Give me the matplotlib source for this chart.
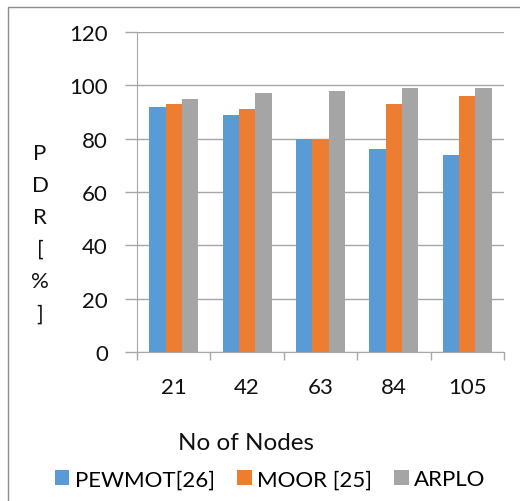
import numpy as np
import matplotlib.pyplot as plt
from matplotlib.patches import Rectangle

plt.rcParams['font.family'] = ['Lato', 'DejaVu Sans']

# PDR per node count
nodes = ['21', '42', '63', '84', '105']
pewmot = [92, 89, 80, 76, 74]
moor = [93, 91, 80, 93, 96]
arplo = [95, 97, 98, 99, 99]
series_names = ['PEWMOT[26]', 'MOOR [25]', 'ARPLO']
colors = ['#5B9BD5', '#ED7D31', '#A5A5A5']

fig = plt.figure(figsize=(5.2, 5.02), dpi=100)
ax = fig.add_axes([0.2635, 0.297, 0.7055, 0.637])

x = np.arange(len(nodes))
w = 0.222
for i, (vals, name, c) in enumerate(zip([pewmot, moor, arplo], series_names, colors)):
    ax.bar(x + (i - 1) * w, vals, width=w, color=c, label=name, zorder=3)

grid_c = '#A6A6A6'
ax.set_ylim(0, 120)
ax.set_yticks(range(0, 121, 20))
ax.set_xlim(-0.5, len(nodes) - 0.5)
ax.yaxis.grid(True, color=grid_c, linewidth=1, zorder=0)
ax.tick_params(axis='y', length=9, color=grid_c, width=1, labelsize=16, pad=12,
               labelcolor='#111111')
ax.set_xticks(x)
ax.set_xticklabels(nodes)
ax.tick_params(axis='x', length=0, labelsize=16, pad=18, labelcolor='#111111')
ax.set_xticks(np.arange(-0.5, len(nodes)), minor=True)
ax.tick_params(axis='x', which='minor', length=6, color=grid_c, width=1)

for s in ['top', 'right']:
    ax.spines[s].set_visible(False)
ax.spines['left'].set_color(grid_c)
ax.spines['bottom'].set_color(grid_c)
ax.spines['left'].set_zorder(4)

fig.text(0.077, 0.534, 'P\nD\nR\n[\n%\n]', fontsize=16, ha='center', va='center',
         linespacing=1.76, color='#111111')
fig.text(0.473, 0.117, 'No of Nodes', fontsize=17.5, ha='center', va='center',
         color='#111111')

fig.legend(loc='center', bbox_to_anchor=(0.52, 0.043), ncol=3, frameon=False,
           fontsize=16, handlelength=0.65, handleheight=0.65, handletextpad=0.25,
           columnspacing=1.0)

# outer chart frame, open at the right and bottom edges
fig.patches.append(Rectangle((8 / 520, -0.05), 1.2, 1 - 8 / 502 + 0.05,
                             transform=fig.transFigure, fill=False,
                             edgecolor='#8C8C8C', linewidth=1))

fig.savefig('out.png', dpi=100)
